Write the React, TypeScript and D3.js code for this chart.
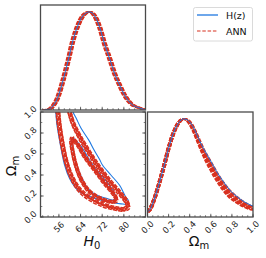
import * as d3 from "d3"

// H0 1D marginal (H0, normalised density)
const h0Grid = [50.5, 52.5, 53.8, 55.6, 57.5, 59.3, 61.2, 63.0, 64.9, 67.3, 69.2, 71.1, 72.9, 74.8, 76.6, 78.5, 80.3, 82.8, 85.9, 88.0]
const h0Hz = [0.0, 0.01, 0.04, 0.13, 0.3, 0.49, 0.71, 0.86, 0.96, 1.0, 0.96, 0.84, 0.67, 0.52, 0.37, 0.25, 0.15, 0.06, 0.02, 0.0]

// Omega_m 1D marginals
const omGrid = [0.0, 0.02, 0.06, 0.107, 0.154, 0.2, 0.248, 0.295, 0.342, 0.39, 0.437, 0.484, 0.53, 0.594, 0.657, 0.72, 0.783, 0.846, 0.925, 1.0]
const omHz = [0.05, 0.07, 0.17, 0.33, 0.51, 0.7, 0.86, 0.96, 1.0, 0.98, 0.91, 0.8, 0.7, 0.58, 0.46, 0.36, 0.27, 0.21, 0.15, 0.11]
const omAnnHigh = [0.05, 0.07, 0.17, 0.33, 0.51, 0.7, 0.86, 0.96, 1.0, 0.98, 0.9, 0.79, 0.68, 0.56, 0.44, 0.34, 0.26, 0.2, 0.14, 0.1]
const omAnnMid = [0.05, 0.07, 0.17, 0.33, 0.51, 0.7, 0.86, 0.96, 1.0, 0.97, 0.89, 0.77, 0.66, 0.53, 0.41, 0.31, 0.23, 0.17, 0.12, 0.085]
const omAnnLow = [0.05, 0.07, 0.17, 0.33, 0.51, 0.7, 0.86, 0.96, 1.0, 0.97, 0.88, 0.76, 0.64, 0.5, 0.38, 0.28, 0.2, 0.15, 0.1, 0.07]

// 2D contours [H0, Omega_m]
const hzOuter: [number, number][] = [
  [54.0, 1.1], [54.8, 1.0], [55.2, 0.892], [56.0, 0.765], [56.9, 0.638], [58.1, 0.495], [59.9, 0.368],
  [61.8, 0.289], [63.6, 0.241], [67.0, 0.2], [71.0, 0.165], [75.0, 0.14], [79.0, 0.125], [81.2, 0.125],
  [81.6, 0.16], [80.7, 0.19], [78.5, 0.3], [75.2, 0.4], [72.1, 0.495], [71.0, 0.55], [69.0, 0.638],
  [67.1, 0.73], [64.2, 0.845], [62.4, 0.94], [61.2, 1.003], [60.5, 1.1],
]
const hzInner: [number, number][] = [
  [61.0, 0.755], [60.6, 0.733], [61.2, 0.638], [62.4, 0.511], [64.3, 0.384], [66.7, 0.273], [69.8, 0.21],
  [73.5, 0.178], [76.0, 0.162], [76.9, 0.18], [76.6, 0.225], [74.1, 0.321], [71.0, 0.416], [67.3, 0.543],
  [64.3, 0.67], [61.8, 0.74],
]
const annOuter: [number, number][] = [
  [55.3, 1.1], [55.6, 1.003], [56.2, 0.86], [57.2, 0.702], [58.5, 0.543], [60.6, 0.384], [63.6, 0.257],
  [67.3, 0.178], [72.3, 0.114], [76.6, 0.083], [80.3, 0.073], [81.5, 0.098], [80.9, 0.146], [78.5, 0.225],
  [74.8, 0.336], [71.0, 0.463], [67.3, 0.606], [63.6, 0.765], [61.2, 0.892], [59.9, 1.003], [59.5, 1.1],
]
const annInner: [number, number][] = [
  [61.0, 0.75], [60.6, 0.717], [61.2, 0.606], [62.4, 0.479], [64.3, 0.352], [67.3, 0.241], [71.0, 0.178],
  [74.8, 0.146], [76.6, 0.146], [77.2, 0.168], [76.0, 0.225], [72.9, 0.321], [69.2, 0.448], [65.5, 0.575],
  [63.0, 0.686], [61.2, 0.74],
]
// small offsets between ANN realisations [dH0, dOm]
const annRuns: [number, number][] = [
  [0, 0], [-0.7, 0.012], [0.7, -0.012], [-0.4, -0.015], [0.5, 0.015], [0.2, 0.005],
]
const omRunShift = [-0.012, 0, 0.012]

const h0Ticks = [56, 64, 72, 80]
const omTicks = [0.0, 0.2, 0.4, 0.6, 0.8, 1.0]

const blue = "#1f78e0"
const red = "#d8301f"
const frame = "#4a4a4a"
const tickFont = "DejaVu Sans, sans-serif"
const dash = "4,1.3"

const L = { x0: 40.5, x1: 145.5 }
const R = { x0: 147.5, x1: 253 }
const T = { y0: 5, y1: 110 }
const B = { y0: 112, y1: 217 }

const xH = d3.scaleLinear().domain([49.2, 88]).range([L.x0, L.x1])
const xOmR = d3.scaleLinear().domain([0, 1]).range([R.x0, R.x1])
const yOm = d3.scaleLinear().domain([0, 1]).range([B.y1, B.y0])
const yTop = d3.scaleLinear().domain([0, 1.07]).range([T.y1, T.y0])
const yRight = d3.scaleLinear().domain([0, 1.07]).range([B.y1, B.y0])

const contour = (pts: [number, number][], dh = 0, dom = 0) =>
  d3
    .line<[number, number]>()
    .x((d) => xH(d[0] + dh))
    .y((d) => yOm(d[1] + dom))
    .curve(d3.curveCatmullRomClosed.alpha(0.5))(pts) || ""

const h0Curve = (vals: number[], dh = 0) =>
  d3
    .line<number>()
    .x((_, i) => xH(h0Grid[i] + dh))
    .y((d) => yTop(d))
    .curve(d3.curveMonotoneX)(vals) || ""

const omCurve = (vals: number[], dx = 0) =>
  d3
    .line<number>()
    .x((_, i) => xOmR(Math.max(0, omGrid[i] + dx)))
    .y((d) => yRight(d))
    .curve(d3.curveMonotoneX)(vals) || ""

function XTicks({ scale, y, major, minor, label }: any) {
  return (
    <g>
      {minor.map((t: number) => (
        <line key={"m" + t} x1={scale(t)} x2={scale(t)} y1={y} y2={y - 1.8} stroke={frame} strokeWidth={0.7} />
      ))}
      {major.map((t: number) => (
        <line key={"M" + t} x1={scale(t)} x2={scale(t)} y1={y} y2={y - 3.2} stroke={frame} strokeWidth={0.8} />
      ))}
      {label &&
        major.map((t: number) => (
          <text
            key={"l" + t}
            transform={`translate(${scale(t)},${y + 10}) rotate(-45)`}
            textAnchor="middle"
            dominantBaseline="central"
            fontSize={8.5}
            fontFamily={tickFont}
            fill="#222"
          >
            {label(t)}
          </text>
        ))}
    </g>
  )
}

export default function App() {
  const h0Minor = d3.range(50, 88, 2)
  const omMinorX = d3.range(0, 1.001, 0.05)
  const omMinorY = d3.range(0, 1.001, 0.1)
  const fmt = d3.format(".1f")

  return (
    <svg width={266} height={258} style={{ position: "absolute", left: 0, top: 0, background: "#fff" }}>
      <defs>
        <clipPath id="c2d">
          <rect x={L.x0} y={B.y0} width={L.x1 - L.x0} height={B.y1 - B.y0} />
        </clipPath>
        <clipPath id="cTop">
          <rect x={L.x0} y={T.y0} width={L.x1 - L.x0} height={T.y1 - T.y0} />
        </clipPath>
        <clipPath id="cRight">
          <rect x={R.x0} y={B.y0} width={R.x1 - R.x0} height={B.y1 - B.y0} />
        </clipPath>
      </defs>

      {/* top: H0 marginal */}
      <g clipPath="url(#cTop)" fill="none">
        {annRuns.map(([dh], i) => (
          <path key={i} d={h0Curve(h0Hz, dh)} stroke={red} strokeWidth={1.5} strokeDasharray={dash} />
        ))}
        <path d={h0Curve(h0Hz)} stroke={blue} strokeWidth={1} />
      </g>
      <XTicks scale={xH} y={T.y1} major={h0Ticks} minor={h0Minor} />
      <rect x={L.x0} y={T.y0} width={L.x1 - L.x0} height={T.y1 - T.y0} fill="none" stroke={frame} strokeWidth={1.3} />

      {/* 2D: H0 vs Omega_m */}
      <g clipPath="url(#c2d)" fill="none">
        <path d={contour(hzOuter)} stroke={blue} strokeWidth={1.1} />
        <path d={contour(hzInner)} stroke={blue} strokeWidth={1.1} />
        {annRuns.map(([dh, dom], i) => (
          <g key={i}>
            <path d={contour(annOuter, dh, dom)} stroke={red} strokeWidth={1.5} strokeDasharray={dash} />
            <path d={contour(annInner, dh * 0.8, dom * 0.8)} stroke={red} strokeWidth={1.5} strokeDasharray={dash} />
          </g>
        ))}
      </g>
      <XTicks scale={xH} y={B.y1} major={h0Ticks} minor={h0Minor} label={(t: number) => t} />
      {omMinorY.map((t) => (
        <g key={"y" + t}>
          <line x1={L.x0} x2={L.x0 + 1.8} y1={yOm(t)} y2={yOm(t)} stroke={frame} strokeWidth={0.7} />
          <line x1={L.x1} x2={L.x1 - 1.8} y1={yOm(t)} y2={yOm(t)} stroke={frame} strokeWidth={0.7} />
        </g>
      ))}
      {omTicks.map((t) => (
        <g key={"yl" + t}>
          <line x1={L.x0} x2={L.x0 + 3.2} y1={yOm(t)} y2={yOm(t)} stroke={frame} strokeWidth={0.8} />
          <line x1={L.x1} x2={L.x1 - 3.2} y1={yOm(t)} y2={yOm(t)} stroke={frame} strokeWidth={0.8} />
          <text
            transform={`translate(${L.x0 - 10},${yOm(t)}) rotate(-45)`}
            textAnchor="middle"
            dominantBaseline="central"
            fontSize={8.5}
            fontFamily={tickFont}
            fill="#222"
          >
            {fmt(t)}
          </text>
        </g>
      ))}
      <rect x={L.x0} y={B.y0} width={L.x1 - L.x0} height={B.y1 - B.y0} fill="none" stroke={frame} strokeWidth={1.3} />

      {/* right: Omega_m marginal */}
      <g clipPath="url(#cRight)" fill="none">
        {[omAnnHigh, omAnnMid, omAnnLow].map((vals, j) =>
          omRunShift.map((dx, i) => (
            <path key={j + "-" + i} d={omCurve(vals, dx)} stroke={red} strokeWidth={1.5} strokeDasharray={dash} />
          )),
        )}
        <path d={omCurve(omHz)} stroke={blue} strokeWidth={1} />
      </g>
      <XTicks scale={xOmR} y={B.y1} major={omTicks} minor={omMinorX} label={fmt} />
      <rect x={R.x0} y={B.y0} width={R.x1 - R.x0} height={B.y1 - B.y0} fill="none" stroke={frame} strokeWidth={1.3} />

      {/* axis labels */}
      <text transform="translate(16,166) rotate(-90)" textAnchor="middle" fontSize={14} fontFamily={tickFont} fill="#111">
        Ω<tspan fontSize={10} dy={3}>m</tspan>
      </text>
      <text x={92} y={246} textAnchor="middle" fontSize={14} fontFamily={tickFont} fill="#111">
        <tspan fontStyle="italic">H</tspan>
        <tspan fontSize={10} dy={3}>0</tspan>
      </text>
      <text x={199} y={246} textAnchor="middle" fontSize={14} fontFamily={tickFont} fill="#111">
        Ω<tspan fontSize={10} dy={3}>m</tspan>
      </text>

      {/* legend */}
      <rect x={193.5} y={7.5} width={59} height={33.5} rx={2} fill="#fff" stroke="#d0d0d0" strokeWidth={0.8} />
      <line x1={197} x2={218} y1={15} y2={15} stroke={blue} strokeWidth={1.3} />
      <line x1={197} x2={218} y1={31} y2={31} stroke={red} strokeWidth={1.1} strokeDasharray="3.5,1.8" />
      <text x={226} y={15} dominantBaseline="central" fontSize={9.5} fontFamily={tickFont} fill="#111">
        H(z)
      </text>
      <text x={226} y={31} dominantBaseline="central" fontSize={9.5} fontFamily={tickFont} fill="#111">
        ANN
      </text>
    </svg>
  )
}
